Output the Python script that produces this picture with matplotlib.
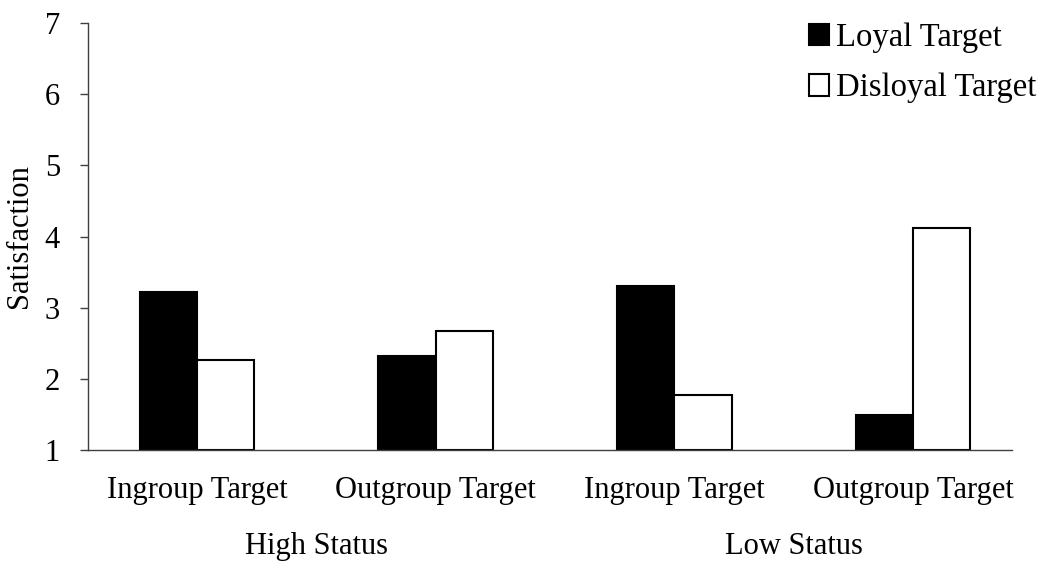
import numpy as np
import matplotlib
matplotlib.use("Agg")
import matplotlib.pyplot as plt

# values
targets = ["Ingroup Target", "Outgroup Target", "Ingroup Target", "Outgroup Target"]
status_groups = ["High Status", "Low Status"]
loyal = [3.22, 2.32, 3.30, 1.49]
disloyal = [2.26, 2.67, 1.77, 4.12]
yticks = [1, 2, 3, 4, 5, 6, 7]

plt.rcParams["font.family"] = ["Liberation Serif", "DejaVu Serif"]
fs = 22

fig = plt.figure(figsize=(10.4, 5.63), dpi=100)
ax = fig.add_axes([0.0843, 0.2012, 0.8887, 0.7574])

x = np.arange(len(targets))
w = 0.24
ax.bar(x - w / 2, np.array(loyal) - 1, w, bottom=1, color="black",
       edgecolor="black", linewidth=1.5, label="Loyal Target")
ax.bar(x + w / 2, np.array(disloyal) - 1, w, bottom=1, color="white",
       edgecolor="black", linewidth=1.5, label="Disloyal Target")

ax.set_xlim(-0.458, 3.415)
ax.set_ylim(1, 7)
ax.set_yticks(yticks)
ax.set_xticks(x)
ax.set_xticklabels(targets, fontsize=fs)
ax.tick_params(axis="x", length=0, pad=19)
ax.tick_params(axis="y", length=6, width=1, color="#404040", labelsize=fs, pad=14)
ax.set_ylabel("Satisfaction", fontsize=fs, labelpad=8)

for side in ["top", "right"]:
    ax.spines[side].set_visible(False)
for side in ["left", "bottom"]:
    ax.spines[side].set_color("#404040")
    ax.spines[side].set_linewidth(1)

# group labels under each pair of categories
trans = ax.get_xaxis_transform()
for i, name in enumerate(status_groups):
    ax.text(x[2 * i:2 * i + 2].mean(), -0.228, name, transform=trans,
            ha="center", va="center", fontsize=fs)

ax.legend(loc="upper left", bbox_to_anchor=(0.756, 1.0), bbox_transform=fig.transFigure,
          frameon=False, fontsize=23.5, handlelength=0.62, handleheight=0.62,
          handletextpad=0.2, labelspacing=0.6, borderaxespad=0.3)

fig.savefig("out.png", dpi=100)
